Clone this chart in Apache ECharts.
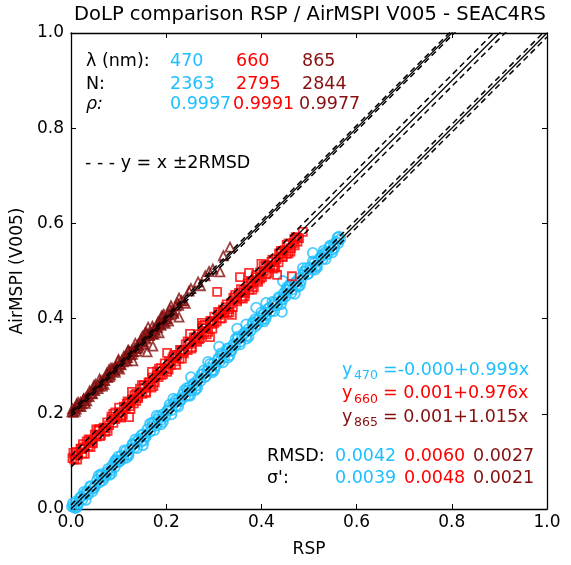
<!DOCTYPE html>
<html>
<head>
<meta charset="utf-8">
<script src="https://cdn.jsdelivr.net/npm/echarts@6/dist/echarts.min.js"></script>
<style>
  html, body { margin: 0; padding: 0; background: #fff; }
  #chart { width: 571px; height: 565px; }
</style>
</head>
<body>
<div id="chart"></div>
<script>
// RSP vs AirMSPI DoLP, raw pairs [rsp, airmspi]; 660 and 865 are shifted up for display
var wavelengths = [470, 660, 865]
var counts = [2363, 2795, 2844]
var rhos = ['0.9997', '0.9991', '0.9977']
var fits = ['=-0.000+0.999x', '= 0.001+0.976x', '= 0.001+1.015x']
var rmsd = [0.0042, 0.0060, 0.0027]
var sigma = [0.0039, 0.0048, 0.0021]
var offsets = [0, 0.1, 0.2]
var colors = ['#1ebfff', '#ff0000', '#851010']

var dolp470 = [
  [0.002,0.005],[0.006,0.004],[0.011,0.016],[0.015,0.012],[0.019,0.024],[0.024,0.020],[0.029,0.031],[0.033,0.036],
  [0.036,0.031],[0.042,0.047],[0.046,0.043],[0.051,0.049],[0.055,0.061],[0.060,0.056],[0.064,0.069],[0.069,0.066],
  [0.073,0.071],[0.078,0.084],[0.083,0.080],[0.087,0.092],[0.092,0.088],[0.097,0.101],[0.101,0.099],[0.106,0.112],
  [0.110,0.106],[0.115,0.121],[0.120,0.116],[0.124,0.127],[0.129,0.136],[0.133,0.129],[0.138,0.142],[0.143,0.147],
  [0.147,0.141],[0.152,0.157],[0.156,0.153],[0.161,0.168],[0.166,0.162],[0.170,0.173],[0.175,0.181],[0.179,0.175],
  [0.184,0.189],[0.189,0.187],[0.193,0.199],[0.198,0.194],[0.203,0.207],[0.207,0.213],[0.212,0.208],[0.216,0.222],
  [0.221,0.217],[0.226,0.231],[0.230,0.228],[0.235,0.241],[0.240,0.236],[0.244,0.248],[0.249,0.256],[0.253,0.249],
  [0.258,0.264],[0.263,0.259],[0.267,0.272],[0.272,0.269],[0.276,0.283],[0.281,0.277],[0.286,0.290],[0.290,0.296],
  [0.295,0.290],[0.299,0.305],[0.304,0.301],[0.309,0.314],[0.313,0.310],[0.318,0.325],[0.322,0.318],[0.327,0.331],
  [0.332,0.338],[0.336,0.332],[0.341,0.346],[0.345,0.343],[0.350,0.357],[0.355,0.351],[0.359,0.363],[0.364,0.370],
  [0.368,0.364],[0.373,0.378],[0.378,0.375],[0.382,0.389],[0.387,0.383],[0.391,0.396],[0.396,0.401],[0.401,0.397],
  [0.405,0.410],[0.410,0.407],[0.414,0.421],[0.419,0.415],[0.424,0.428],[0.428,0.434],[0.433,0.428],[0.437,0.442],
  [0.442,0.439],[0.447,0.453],[0.451,0.447],[0.456,0.460],[0.460,0.466],[0.465,0.461],[0.470,0.475],[0.474,0.471],
  [0.479,0.485],[0.483,0.479],[0.488,0.492],[0.492,0.498],[0.497,0.493],[0.502,0.507],[0.506,0.503],[0.511,0.517],
  [0.515,0.511],[0.520,0.524],[0.525,0.530],[0.529,0.525],[0.534,0.539],[0.538,0.535],[0.543,0.549],[0.548,0.544],
  [0.552,0.556],[0.557,0.561],[0.561,0.558],[0.566,0.567],
  [0.004,0.012],[0.013,0.004],[0.022,0.026],[0.031,0.019],[0.040,0.048],[0.049,0.045],[0.058,0.070],[0.067,0.060],
  [0.076,0.078],[0.085,0.075],[0.094,0.103],[0.103,0.101],[0.112,0.123],[0.121,0.113],[0.130,0.135],[0.139,0.128],
  [0.148,0.155],[0.157,0.152],[0.166,0.179],[0.175,0.166],[0.184,0.194],[0.193,0.183],[0.202,0.206],[0.211,0.199],
  [0.220,0.229],[0.229,0.227],[0.238,0.249],[0.247,0.239],[0.256,0.261],[0.265,0.254],[0.274,0.283],[0.283,0.279],
  [0.292,0.305],[0.301,0.292],[0.310,0.317],[0.319,0.308],[0.328,0.337],[0.337,0.333],[0.346,0.358],[0.355,0.346],
  [0.364,0.369],[0.373,0.362],[0.382,0.392],[0.391,0.388],[0.400,0.413],[0.409,0.400],[0.418,0.423],[0.427,0.416],
  [0.436,0.445],[0.445,0.441],[0.454,0.466],[0.463,0.454],[0.472,0.477],[0.481,0.470],[0.490,0.499],[0.499,0.495],
  [0.508,0.520],[0.517,0.508],[0.526,0.531],[0.535,0.525],[0.544,0.553],[0.553,0.548],[0.560,0.570],
  [0.009,0.002],[0.027,0.036],[0.045,0.037],[0.063,0.073],[0.081,0.072],[0.099,0.110],[0.117,0.108],[0.135,0.146],
  [0.153,0.144],[0.171,0.182],[0.189,0.178],[0.207,0.219],[0.225,0.215],[0.243,0.254],[0.261,0.250],[0.279,0.291],
  [0.297,0.287],[0.315,0.327],[0.333,0.323],[0.351,0.362],[0.369,0.358],[0.387,0.399],[0.405,0.394],[0.423,0.435],
  [0.441,0.430],[0.459,0.471],[0.477,0.467],[0.495,0.506],[0.513,0.503],[0.531,0.543],[0.549,0.539],[0.563,0.572],
  [0.092,0.100],[0.151,0.134],[0.180,0.196],[0.215,0.232],[0.252,0.277],[0.288,0.309],[0.311,0.341],[0.349,0.379],
  [0.368,0.388],[0.389,0.423],[0.410,0.433],[0.443,0.414],[0.445,0.479],[0.452,0.461],[0.487,0.506],[0.508,0.538],
  [0.530,0.535],[0.470,0.452],[0.330,0.318],[0.250,0.238]
]

var dolp660 = [
  [0.003,0.007],[0.007,0.004],[0.011,0.020],[0.015,0.014],[0.020,0.026],[0.024,0.017],[0.028,0.030],[0.033,0.042],
  [0.037,0.032],[0.041,0.045],[0.046,0.038],[0.050,0.056],[0.054,0.052],[0.059,0.068],[0.063,0.056],[0.067,0.069],
  [0.072,0.062],[0.076,0.082],[0.080,0.076],[0.085,0.089],[0.089,0.081],[0.093,0.103],[0.098,0.093],[0.102,0.103],
  [0.106,0.095],[0.111,0.115],[0.115,0.112],[0.119,0.126],[0.124,0.116],[0.128,0.130],[0.132,0.122],[0.137,0.142],
  [0.141,0.136],[0.145,0.153],[0.150,0.142],[0.154,0.155],[0.158,0.146],[0.163,0.166],[0.167,0.162],[0.171,0.176],
  [0.176,0.166],[0.180,0.181],[0.184,0.177],[0.189,0.196],[0.193,0.183],[0.197,0.195],[0.202,0.188],[0.206,0.209],
  [0.210,0.203],[0.215,0.220],[0.219,0.210],[0.223,0.223],[0.228,0.216],[0.232,0.233],[0.236,0.230],[0.241,0.246],
  [0.245,0.234],[0.249,0.247],[0.254,0.240],[0.258,0.260],[0.262,0.254],[0.267,0.267],[0.271,0.259],[0.275,0.280],
  [0.280,0.270],[0.284,0.280],[0.288,0.272],[0.293,0.293],[0.297,0.289],[0.301,0.304],[0.306,0.294],[0.310,0.308],
  [0.314,0.300],[0.319,0.319],[0.323,0.313],[0.327,0.330],[0.332,0.320],[0.336,0.332],[0.340,0.324],[0.345,0.344],
  [0.349,0.340],[0.353,0.354],[0.358,0.343],[0.362,0.358],[0.366,0.354],[0.371,0.374],[0.375,0.361],[0.379,0.373],
  [0.384,0.366],[0.388,0.387],[0.392,0.381],[0.397,0.397],[0.401,0.387],[0.405,0.400],[0.410,0.393],[0.414,0.411],
  [0.418,0.408],[0.423,0.424],[0.427,0.412],[0.431,0.425],[0.436,0.418],[0.440,0.437],[0.444,0.431],[0.449,0.444],
  [0.453,0.436],[0.457,0.458],[0.462,0.448],[0.466,0.458],[0.470,0.454],[0.475,0.470],[0.479,0.469],
  [0.005,0.018],[0.013,0.004],[0.021,0.027],[0.029,0.016],[0.037,0.046],[0.045,0.040],[0.053,0.067],[0.061,0.053],
  [0.069,0.071],[0.077,0.064],[0.085,0.094],[0.093,0.089],[0.101,0.113],[0.109,0.098],[0.117,0.121],[0.125,0.110],
  [0.133,0.139],[0.141,0.133],[0.149,0.160],[0.157,0.144],[0.165,0.166],[0.173,0.158],[0.181,0.189],[0.189,0.182],
  [0.197,0.206],[0.205,0.193],[0.213,0.216],[0.221,0.203],[0.229,0.234],[0.237,0.227],[0.245,0.252],[0.253,0.237],
  [0.261,0.261],[0.269,0.257],[0.277,0.285],[0.285,0.267],[0.293,0.295],[0.301,0.291],[0.309,0.314],[0.317,0.301],
  [0.325,0.324],[0.333,0.313],[0.341,0.344],[0.349,0.336],[0.357,0.362],[0.365,0.347],[0.373,0.369],[0.381,0.361],
  [0.389,0.392],[0.397,0.384],[0.405,0.410],[0.413,0.395],[0.421,0.419],[0.429,0.407],[0.437,0.437],[0.445,0.429],
  [0.453,0.455],[0.461,0.441],[0.469,0.467],[0.476,0.462],
  [0.009,0.012],[0.025,0.036],[0.041,0.030],[0.057,0.064],[0.073,0.070],[0.089,0.100],[0.105,0.092],[0.121,0.123],
  [0.137,0.127],[0.153,0.160],[0.169,0.155],[0.185,0.195],[0.201,0.194],[0.217,0.224],[0.233,0.216],[0.249,0.250],
  [0.265,0.251],[0.281,0.287],[0.297,0.279],[0.313,0.312],[0.329,0.312],[0.345,0.350],[0.361,0.342],[0.377,0.377],
  [0.393,0.377],[0.409,0.412],[0.425,0.405],[0.441,0.442],[0.457,0.437],[0.472,0.471],
  [0.128,0.146],[0.122,0.093],[0.202,0.228],[0.275,0.291],[0.292,0.261],[0.307,0.356],[0.338,0.308],[0.355,0.387],
  [0.374,0.396],[0.433,0.392],[0.464,0.389],[0.487,0.482],[0.250,0.268],[0.170,0.188],[0.400,0.415]
]

var dolp865 = [
  [0.002,0.004],[0.005,0.003],[0.008,0.012],[0.011,0.010],[0.014,0.017],[0.017,0.016],[0.020,0.024],[0.023,0.021],
  [0.026,0.030],[0.029,0.027],[0.032,0.035],[0.035,0.038],[0.038,0.036],[0.041,0.044],[0.044,0.042],[0.047,0.051],
  [0.050,0.049],[0.053,0.056],[0.056,0.059],[0.059,0.058],[0.062,0.066],[0.065,0.063],[0.068,0.072],[0.071,0.070],
  [0.074,0.078],[0.077,0.076],[0.080,0.085],[0.083,0.082],[0.086,0.089],[0.089,0.093],[0.092,0.091],[0.095,0.099],
  [0.098,0.097],[0.101,0.105],[0.104,0.103],[0.107,0.112],[0.110,0.109],[0.113,0.116],[0.116,0.121],[0.119,0.118],
  [0.122,0.126],[0.125,0.124],[0.128,0.133],[0.131,0.130],[0.134,0.138],[0.137,0.137],[0.140,0.145],[0.143,0.142],
  [0.146,0.150],[0.149,0.152],[0.152,0.151],[0.155,0.160],[0.158,0.157],[0.161,0.166],[0.164,0.165],[0.167,0.171],
  [0.170,0.168],[0.173,0.178],[0.176,0.177],[0.179,0.183],[0.182,0.181],[0.185,0.190],[0.188,0.188],[0.191,0.196],
  [0.194,0.193],[0.197,0.202],[0.200,0.199],[0.203,0.208],[0.207,0.208],[0.211,0.216],[0.215,0.215],[0.220,0.226],
  [0.226,0.228],[0.232,0.238],
  [0.003,0.010],[0.009,0.005],[0.015,0.024],[0.021,0.015],[0.027,0.032],[0.033,0.027],[0.039,0.048],[0.045,0.043],
  [0.051,0.062],[0.057,0.053],[0.063,0.070],[0.069,0.062],[0.075,0.085],[0.081,0.078],[0.087,0.095],[0.093,0.087],
  [0.099,0.111],[0.105,0.104],[0.111,0.121],[0.117,0.111],[0.123,0.131],[0.129,0.125],[0.135,0.148],[0.141,0.138],
  [0.147,0.156],[0.153,0.146],[0.159,0.170],[0.165,0.165],[0.171,0.184],[0.177,0.173],[0.183,0.193],[0.189,0.186],
  [0.195,0.209],[0.201,0.200],[0.208,0.219],[0.216,0.211],[0.224,0.233],[0.236,0.237],[0.252,0.263],[0.272,0.269],
  [0.290,0.299],[0.320,0.332],
  [0.012,0.021],[0.030,0.022],[0.048,0.059],[0.066,0.058],[0.084,0.096],[0.102,0.094],[0.120,0.133],[0.138,0.131],
  [0.156,0.170],[0.174,0.167],[0.192,0.206],[0.198,0.190],
  [0.334,0.350],[0.298,0.304],[0.313,0.298],[0.267,0.277],[0.227,0.243],[0.227,0.203],[0.162,0.182],[0.172,0.142],
  [0.160,0.130],[0.130,0.111],[0.210,0.227],[0.190,0.205],[0.248,0.258],[0.282,0.290],[0.240,0.232],[0.150,0.163],
  [0.120,0.133],[0.100,0.114],[0.080,0.093],[0.060,0.073],[0.185,0.170],[0.205,0.195]
]

var datasets = [dolp470, dolp660, dolp865]
var symbols = ['circle', 'rect', 'triangle']
var symbolSizes = [10, 8, 9]
var FONT = 'DejaVu Sans'

var series = []
datasets.forEach(function (pts, i) {
  series.push({
    type: 'scatter',
    symbol: symbols[i],
    symbolSize: symbolSizes[i],
    itemStyle: { color: 'rgba(0,0,0,0)', borderColor: colors[i], borderWidth: 1.8 },
    data: pts.map(function (p) { return [p[0], p[1] + offsets[i]] }),
    silent: true
  })
})
// y = x lines and +-2RMSD, shifted like the points
offsets.forEach(function (off, i) {
  series.push({
    type: 'line', symbol: 'none', silent: true,
    lineStyle: { color: '#000', width: 1.3 },
    data: [[0, off], [1, 1 + off]]
  })
  ;[-2, 2].forEach(function (k) {
    series.push({
      type: 'line', symbol: 'none', silent: true,
      lineStyle: { color: '#000', width: 1.5, type: [6, 4] },
      data: [[0, off + k * rmsd[i]], [1, 1 + off + k * rmsd[i]]]
    })
  })
})

function txt(x, y, text, color, size, align) {
  return {
    type: 'text', x: x, y: y, silent: true,
    style: {
      text: text, fill: color || '#000', font: (size || 17.5) + 'px "' + FONT + '"',
      textAlign: align || 'left', textVerticalAlign: 'middle'
    }
  }
}

var cols = [170, 236, 302]
var graphics = [
  txt(310, 15, 'DoLP comparison RSP / AirMSPI V005 - SEAC4RS', '#000', 19.5, 'center'),
  txt(86, 61, 'λ (nm):'),
  txt(86, 84, 'N:'),
  { type: 'text', x: 86, y: 104, silent: true,
    style: { text: 'ρ:', fill: '#000', font: 'italic 17.5px "' + FONT + '"', textVerticalAlign: 'middle' } },
  txt(85, 163, '- - - y = x ±2RMSD'),
  txt(267, 456, 'RMSD:'),
  txt(267, 478, "σ':")
]
var rmsdCols = [335, 404, 473]
wavelengths.forEach(function (w, i) {
  graphics.push(txt(cols[i], 61, String(w), colors[i]))
  graphics.push(txt(cols[i], 84, String(counts[i]), colors[i]))
  graphics.push(txt(cols[i] - (i === 0 ? 0 : 3), 104, rhos[i], colors[i]))
  var ry = 370 + i * 23.5
  graphics.push(txt(342, ry, 'y', colors[i]))
  graphics.push(txt(354, ry + 6, String(w), colors[i], 12.5))
  graphics.push(txt(383, ry, fits[i], colors[i]))
  graphics.push(txt(rmsdCols[i], 456, rmsd[i].toFixed(4), colors[i]))
  graphics.push(txt(rmsdCols[i], 478, sigma[i].toFixed(4), colors[i]))
})

function axis(pos, show, name) {
  return {
    type: 'value', position: pos, min: 0, max: 1, interval: 0.2,
    name: name, nameLocation: 'middle',
    nameTextStyle: { fontFamily: FONT, fontSize: 17, color: '#000' },
    axisLine: { show: true, onZero: false, lineStyle: { color: '#000', width: 1.3 } },
    axisTick: { show: true, inside: true, length: 5, lineStyle: { color: '#000' } },
    axisLabel: {
      show: show, fontFamily: FONT, fontSize: 17, color: '#000',
      formatter: function (v) { return v.toFixed(1) }
    },
    splitLine: { show: false }
  }
}

var xb = axis('bottom', true, 'RSP'); xb.axisLabel.margin = 5; xb.nameGap = 32
var yl = axis('left', true, 'AirMSPI (V005)'); yl.axisLabel.margin = 7; yl.nameGap = 38

var chart = echarts.init(document.getElementById('chart'))
chart.setOption({
  animation: false,
  backgroundColor: '#fff',
  grid: { left: 71, right: 24, top: 33, bottom: 56 },
  xAxis: [xb, axis('top', false)],
  yAxis: [yl, axis('right', false)],
  series: series,
  graphic: graphics
})
</script>
</body>
</html>
